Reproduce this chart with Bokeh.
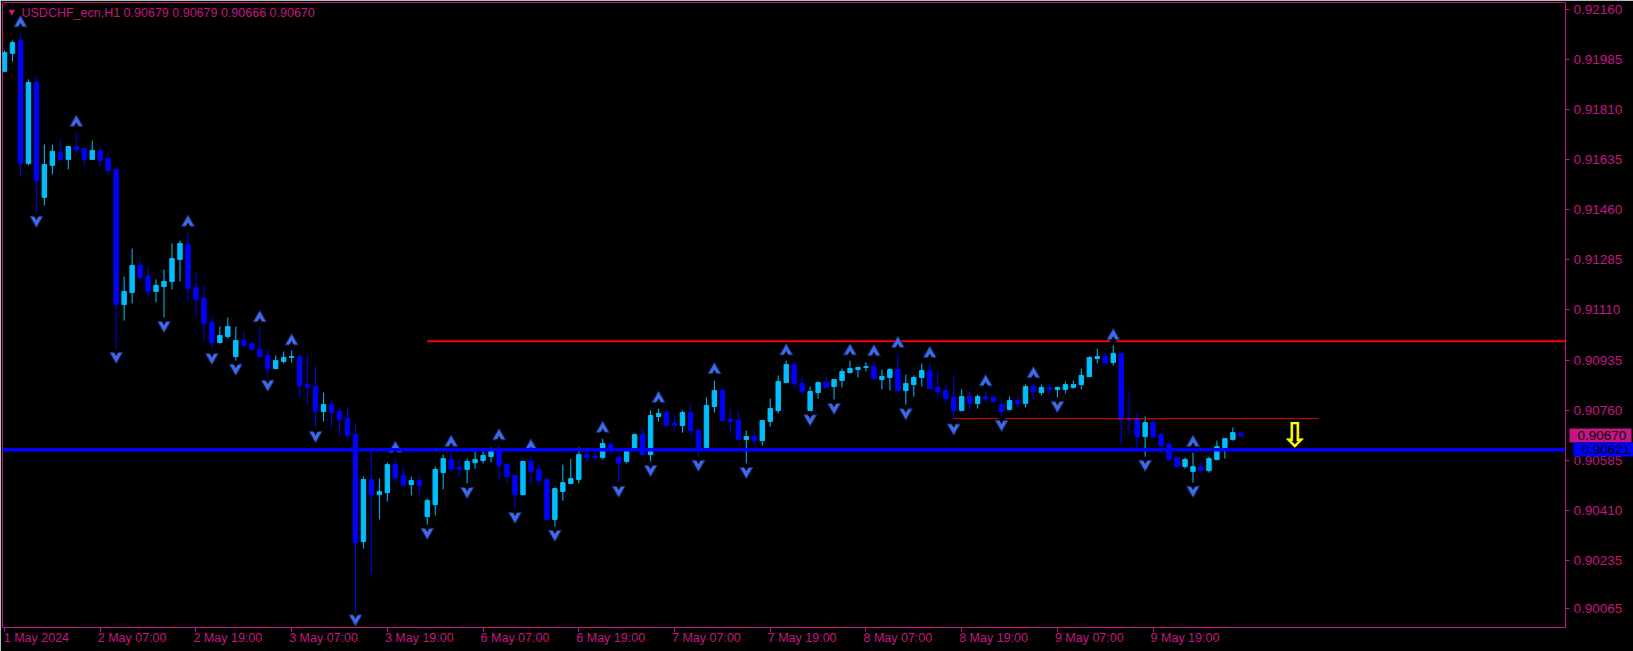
import numpy as np
from bokeh.plotting import figure
from bokeh.models import (ColumnDataSource, FixedTicker, Label, Span, Range1d,
                          PrintfTickFormatter, LinearAxis)
from bokeh.embed import file_html
from bokeh.resources import INLINE
from bokeh.core.properties import value

symbol = "USDCHF_ecn,H1"

time_tick_bars = [0, 12, 24, 36, 48, 60, 72, 84, 96, 108, 120, 132, 144]
time_tick_labels = ["1 May 2024", "2 May 07:00", "2 May 19:00", "3 May 07:00", "3 May 19:00",
                    "6 May 07:00", "6 May 19:00", "7 May 07:00", "7 May 19:00", "8 May 07:00",
                    "8 May 19:00", "9 May 07:00", "9 May 19:00"]

price_ticks = [0.92160, 0.91985, 0.91810, 0.91635, 0.91460, 0.91285, 0.91110,
               0.90935, 0.90760, 0.90585, 0.90410, 0.90235, 0.90065]

opens = [
    0.91945, 0.92008, 0.92053, 0.91623, 0.91906, 0.91504, 0.91616, 0.91661, 0.91637, 0.91682,
    0.91675, 0.91637, 0.91668, 0.91640, 0.91602, 0.91129, 0.91171, 0.91266, 0.91227, 0.91175,
    0.91192, 0.91210, 0.91287, 0.91339, 0.91189, 0.91150, 0.91066, 0.90996, 0.91017, 0.90947,
    0.91003, 0.90993, 0.90972, 0.90951, 0.90905, 0.90930, 0.90944, 0.90947, 0.90849, 0.90842,
    0.90755, 0.90779, 0.90755, 0.90730, 0.90674, 0.90300, 0.90517, 0.90464, 0.90471, 0.90569,
    0.90531, 0.90499, 0.90513, 0.90387, 0.90429, 0.90541, 0.90587, 0.90559, 0.90552, 0.90576,
    0.90583, 0.90597, 0.90618, 0.90569, 0.90531, 0.90464, 0.90580, 0.90552, 0.90517, 0.90377,
    0.90475, 0.90503, 0.90517, 0.90604, 0.90597, 0.90594, 0.90639, 0.90594, 0.90580, 0.90625,
    0.90674, 0.90604, 0.90737, 0.90751, 0.90713, 0.90706, 0.90751, 0.90688, 0.90629, 0.90772,
    0.90828, 0.90727, 0.90723, 0.90657, 0.90667, 0.90653, 0.90720, 0.90758, 0.90856, 0.90919,
    0.90853, 0.90758, 0.90821, 0.90856, 0.90842, 0.90863, 0.90891, 0.90902, 0.90909, 0.90912,
    0.90867, 0.90874, 0.90902, 0.90828, 0.90849, 0.90874, 0.90898, 0.90839, 0.90828, 0.90804,
    0.90758, 0.90807, 0.90783, 0.90807, 0.90804, 0.90779, 0.90762, 0.90793, 0.90783, 0.90842,
    0.90821, 0.90839, 0.90832, 0.90832, 0.90839, 0.90849, 0.90877, 0.90940, 0.90947, 0.90926,
    0.90958, 0.90730, 0.90727, 0.90667, 0.90716, 0.90674, 0.90639, 0.90594, 0.90562, 0.90545,
    0.90562, 0.90548, 0.90587, 0.90629, 0.90657, 0.90679]

highs = [
    0.92018, 0.92053, 0.92078, 0.91917, 0.91927, 0.91689, 0.91689, 0.91710, 0.91682, 0.91731,
    0.91675, 0.91703, 0.91682, 0.91661, 0.91605, 0.91227, 0.91325, 0.91290, 0.91266, 0.91217,
    0.91252, 0.91343, 0.91353, 0.91381, 0.91241, 0.91196, 0.91084, 0.91052, 0.91084, 0.91052,
    0.91035, 0.91000, 0.91049, 0.90972, 0.90951, 0.90965, 0.90968, 0.90954, 0.90951, 0.90912,
    0.90821, 0.90793, 0.90769, 0.90765, 0.90709, 0.90527, 0.90618, 0.90520, 0.90576, 0.90590,
    0.90562, 0.90527, 0.90534, 0.90450, 0.90562, 0.90604, 0.90611, 0.90587, 0.90590, 0.90615,
    0.90615, 0.90629, 0.90636, 0.90576, 0.90531, 0.90583, 0.90597, 0.90569, 0.90520, 0.90489,
    0.90569, 0.90590, 0.90629, 0.90629, 0.90629, 0.90660, 0.90650, 0.90604, 0.90618, 0.90678,
    0.90695, 0.90758, 0.90765, 0.90762, 0.90744, 0.90758, 0.90776, 0.90688, 0.90804, 0.90863,
    0.90842, 0.90762, 0.90758, 0.90688, 0.90688, 0.90723, 0.90800, 0.90881, 0.90933, 0.90923,
    0.90877, 0.90842, 0.90860, 0.90877, 0.90867, 0.90905, 0.90933, 0.90912, 0.90926, 0.90930,
    0.90902, 0.90905, 0.90958, 0.90884, 0.90881, 0.90923, 0.90923, 0.90895, 0.90849, 0.90877,
    0.90832, 0.90825, 0.90814, 0.90825, 0.90811, 0.90800, 0.90807, 0.90807, 0.90849, 0.90853,
    0.90849, 0.90849, 0.90842, 0.90860, 0.90863, 0.90905, 0.90947, 0.90975, 0.90965, 0.90986,
    0.90958, 0.90821, 0.90748, 0.90737, 0.90723, 0.90681, 0.90653, 0.90597, 0.90594, 0.90611,
    0.90580, 0.90597, 0.90653, 0.90660, 0.90699, 0.90679]

lows = [
    0.91941, 0.91980, 0.91577, 0.91616, 0.91451, 0.91476, 0.91584, 0.91630, 0.91602, 0.91654,
    0.91612, 0.91637, 0.91612, 0.91584, 0.90975, 0.91073, 0.91133, 0.91210, 0.91157, 0.91136,
    0.91084, 0.91182, 0.91210, 0.91140, 0.91091, 0.91000, 0.90972, 0.90993, 0.91010, 0.90933,
    0.90979, 0.90968, 0.90944, 0.90877, 0.90902, 0.90923, 0.90926, 0.90800, 0.90776, 0.90699,
    0.90720, 0.90699, 0.90671, 0.90660, 0.90051, 0.90275, 0.90184, 0.90377, 0.90440, 0.90506,
    0.90496, 0.90461, 0.90461, 0.90359, 0.90391, 0.90482, 0.90541, 0.90527, 0.90503, 0.90555,
    0.90573, 0.90576, 0.90520, 0.90506, 0.90415, 0.90461, 0.90496, 0.90496, 0.90373, 0.90352,
    0.90443, 0.90503, 0.90503, 0.90576, 0.90583, 0.90587, 0.90604, 0.90506, 0.90573, 0.90622,
    0.90604, 0.90580, 0.90720, 0.90706, 0.90688, 0.90681, 0.90671, 0.90597, 0.90629, 0.90751,
    0.90720, 0.90678, 0.90653, 0.90573, 0.90636, 0.90636, 0.90702, 0.90748, 0.90856, 0.90835,
    0.90811, 0.90758, 0.90800, 0.90839, 0.90797, 0.90839, 0.90888, 0.90874, 0.90895, 0.90867,
    0.90832, 0.90828, 0.90825, 0.90779, 0.90807, 0.90842, 0.90835, 0.90804, 0.90783, 0.90730,
    0.90758, 0.90755, 0.90765, 0.90786, 0.90786, 0.90737, 0.90758, 0.90772, 0.90769, 0.90797,
    0.90811, 0.90811, 0.90804, 0.90818, 0.90835, 0.90832, 0.90877, 0.90923, 0.90919, 0.90916,
    0.90639, 0.90678, 0.90625, 0.90597, 0.90660, 0.90608, 0.90583, 0.90562, 0.90555, 0.90506,
    0.90548, 0.90541, 0.90583, 0.90590, 0.90653, 0.90666]

closes = [
    0.92011, 0.92046, 0.91623, 0.91906, 0.91563, 0.91619, 0.91665, 0.91637, 0.91682, 0.91672,
    0.91637, 0.91668, 0.91633, 0.91598, 0.91129, 0.91175, 0.91266, 0.91224, 0.91175, 0.91196,
    0.91210, 0.91290, 0.91343, 0.91185, 0.91147, 0.91063, 0.90996, 0.91021, 0.91052, 0.91003,
    0.90986, 0.90972, 0.90947, 0.90905, 0.90933, 0.90944, 0.90947, 0.90846, 0.90839, 0.90755,
    0.90779, 0.90751, 0.90727, 0.90671, 0.90296, 0.90517, 0.90464, 0.90475, 0.90569, 0.90524,
    0.90496, 0.90513, 0.90496, 0.90443, 0.90552, 0.90590, 0.90555, 0.90552, 0.90580, 0.90587,
    0.90601, 0.90615, 0.90566, 0.90527, 0.90464, 0.90580, 0.90545, 0.90513, 0.90377, 0.90485,
    0.90506, 0.90520, 0.90604, 0.90594, 0.90594, 0.90643, 0.90622, 0.90573, 0.90618, 0.90674,
    0.90604, 0.90741, 0.90748, 0.90706, 0.90706, 0.90751, 0.90688, 0.90629, 0.90776, 0.90828,
    0.90723, 0.90720, 0.90657, 0.90667, 0.90653, 0.90723, 0.90765, 0.90860, 0.90919, 0.90853,
    0.90825, 0.90825, 0.90856, 0.90839, 0.90867, 0.90895, 0.90905, 0.90909, 0.90912, 0.90870,
    0.90877, 0.90902, 0.90828, 0.90853, 0.90874, 0.90898, 0.90835, 0.90825, 0.90800, 0.90758,
    0.90807, 0.90783, 0.90807, 0.90800, 0.90790, 0.90755, 0.90793, 0.90783, 0.90842, 0.90825,
    0.90839, 0.90832, 0.90839, 0.90849, 0.90849, 0.90881, 0.90944, 0.90947, 0.90923, 0.90958,
    0.90727, 0.90727, 0.90667, 0.90716, 0.90667, 0.90636, 0.90587, 0.90562, 0.90587, 0.90562,
    0.90548, 0.90590, 0.90632, 0.90660, 0.90681, 0.90670]

up_arrow_bars = [2, 9, 23, 32, 36, 49, 56, 62, 66, 75, 82, 89, 98, 106, 109, 112, 116, 123, 129, 139, 149]
up_arrow_prices = [0.92114, 0.91766, 0.91416, 0.91082, 0.91001, 0.90625, 0.90646, 0.90669, 0.90632,
                   0.90695, 0.90800, 0.90900, 0.90966, 0.90966, 0.90963, 0.90992, 0.90957, 0.90858,
                   0.90886, 0.91019, 0.90646]
down_arrow_bars = [4, 14, 20, 26, 29, 33, 39, 44, 53, 58, 64, 69, 77, 81, 87, 93, 101, 104, 113,
                   119, 125, 132, 143, 149]
down_arrow_prices = [0.91425, 0.90949, 0.91057, 0.90945, 0.90907, 0.90851, 0.90672, 0.90030, 0.90333,
                     0.90476, 0.90389, 0.90326, 0.90480, 0.90553, 0.90571, 0.90546, 0.90730, 0.90770,
                     0.90751, 0.90698, 0.90711, 0.90777, 0.90571, 0.90480]

support_level = 0.90621
resistance_level = 0.91001
resistance_start_bar = 53
range_level = 0.90730
range_start_bar = 119
range_end_bar = 164.75
signal_bar = 161.75
signal_price = 0.90674

# ---- styling ----
X_MIN, X_MAX = -0.25, 195.7
Y_MIN, Y_MAX = 0.89999, 0.92186
MAGENTA = "#C71585"
UP = "#00BFFF"
DOWN = "#0000FF"
ARROW_FILL = "#3D6AE8"
ARROW_LINE = "#1A2A70"
FONT = "Liberation Sans"
FS = "12.5px"
FS_Y = "13.5px"
PX = (Y_MAX - Y_MIN) / 625.0   # price span of one screen pixel (style helper)
NOTCH_SHIFT = 4.0 * PX

n = len(opens)
bars = list(range(n))
colors = [UP if c >= o else DOWN for o, c in zip(opens, closes)]
src = ColumnDataSource(dict(
    x=bars,
    top=[max(o, c) for o, c in zip(opens, closes)],
    bottom=[min(o, c) for o, c in zip(opens, closes)],
    high=highs, low=lows, color=colors))

p = figure(width=1633, height=651, output_backend="svg", toolbar_location=None,
           x_range=Range1d(X_MIN, X_MAX), y_range=Range1d(Y_MIN, Y_MAX),
           y_axis_location="right",
           background_fill_color="black", border_fill_color="black",
           outline_line_color=MAGENTA, outline_line_width=1,
           min_border_left=2, min_border_top=2, min_border_right=63, min_border_bottom=24)
p.grid.visible = False

# candles
p.segment(x0="x", y0="low", x1="x", y1="high", line_color="color", line_width=1, source=src)
p.vbar(x="x", top="top", bottom="bottom", width=0.55, fill_color="color",
       line_color="color", line_width=1, source=src)

# levels
p.add_layout(Span(location=support_level, dimension="width", line_color="#0000FF", line_width=3.5))
p.ray(x=[resistance_start_bar], y=[resistance_level], length=0, angle=0,
      line_color="#FF0000", line_width=2)
p.segment(x0=[range_start_bar], y0=[range_level], x1=[range_end_bar], y1=[range_level],
          line_color="#E00000", line_width=1)

# fractal arrows: a filled triangle with a shallow notch cut into its base
p.scatter(x=up_arrow_bars, y=up_arrow_prices, marker="triangle", size=13,
          fill_color=ARROW_FILL, line_color=ARROW_LINE, line_width=1)
p.scatter(x=up_arrow_bars, y=[v - NOTCH_SHIFT for v in up_arrow_prices], marker="triangle", size=7,
          fill_color="black", line_color=None)
p.scatter(x=down_arrow_bars, y=down_arrow_prices, marker="inverted_triangle", size=13,
          fill_color=ARROW_FILL, line_color=ARROW_LINE, line_width=1)
p.scatter(x=down_arrow_bars, y=[v + NOTCH_SHIFT for v in down_arrow_prices], marker="inverted_triangle",
          size=7, fill_color="black", line_color=None)

# signal arrow
p.text(x=[signal_bar], y=[signal_price], text=["⇩"], text_font=value("DejaVu Sans"),
       text_font_style="bold", text_font_size="34px", text_color="#FFFF00",
       text_align="center", text_baseline="middle")

# y axis (right)
ya = p.yaxis[0]
ya.ticker = FixedTicker(ticks=price_ticks, minor_ticks=[])
ya.formatter = PrintfTickFormatter(format="%.5f")
ya.axis_line_color = None
ya.major_tick_line_color = MAGENTA
ya.major_tick_out = 4
ya.major_tick_in = 0
ya.major_label_standoff = 4
ya.major_label_text_color = MAGENTA
ya.major_label_text_font = FONT
ya.major_label_text_font_size = FS_Y


# price boxes: extra right axes whose single thick tick forms the coloured box
def price_box_axis(level, color):
    ax = LinearAxis(ticker=FixedTicker(ticks=[level], minor_ticks=[]),
                    formatter=PrintfTickFormatter(format="%.5f"))
    ax.axis_line_color = None
    ax.minor_tick_line_color = None
    ax.major_tick_line_color = color
    ax.major_tick_line_width = 14
    ax.major_tick_line_cap = "butt"
    ax.major_tick_in = 56
    ax.major_tick_out = 6
    ax.major_label_standoff = -54
    ax.major_label_text_color = "black"
    ax.major_label_text_font = FONT
    ax.major_label_text_font_size = FS_Y
    return ax


p.add_layout(price_box_axis(closes[-1], MAGENTA), "right")
p.add_layout(price_box_axis(support_level, "#0000FF"), "right")

# x axis (below): tick marks at bar positions (minor), labels start at the tick (major shifted)
LABEL_SHIFT = 4
xa = p.xaxis[0]
xa.ticker = FixedTicker(ticks=[b + LABEL_SHIFT for b in time_tick_bars], minor_ticks=time_tick_bars)
xa.major_label_overrides = {b + LABEL_SHIFT: t for b, t in zip(time_tick_bars, time_tick_labels)}
xa.axis_line_color = None
xa.major_tick_line_color = None
xa.major_tick_out = 0
xa.major_tick_in = 0
xa.minor_tick_line_color = MAGENTA
xa.minor_tick_out = 4
xa.minor_tick_in = 0
xa.major_label_standoff = -1
xa.major_label_text_color = MAGENTA
xa.major_label_text_font = FONT
xa.major_label_text_font_size = FS

# header text
p.add_layout(Label(x=6, x_units="screen", y=Y_MAX, y_offset=-10, text="▼",
                   text_font="DejaVu Sans", text_font_size="8px", text_color=MAGENTA,
                   text_baseline="middle"))
header = f"{symbol}  {opens[-1]:.5f} {highs[-1]:.5f} {lows[-1]:.5f} {closes[-1]:.5f}"
p.add_layout(Label(x=19, x_units="screen", y=Y_MAX, y_offset=-10, text=header,
                   text_font=FONT, text_font_size=FS, text_color=MAGENTA,
                   text_baseline="middle"))

open("out.html", "w").write(file_html(p, INLINE))
